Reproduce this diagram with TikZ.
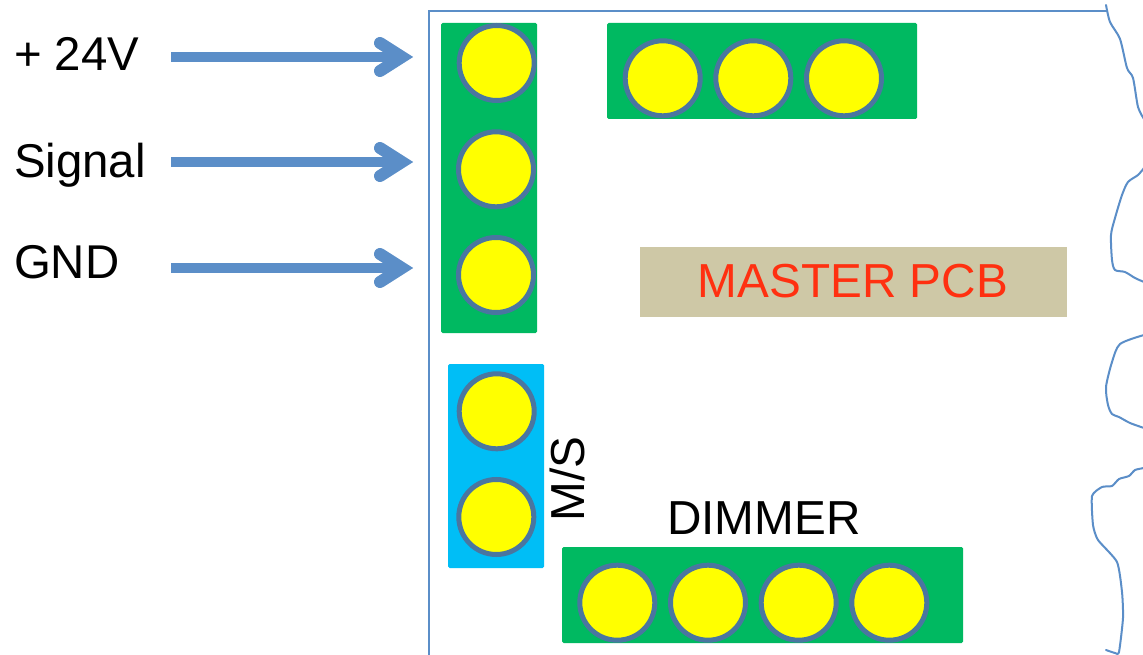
\documentclass[tikz,border=0pt]{standalone}
\usepackage{fontspec}
\setmainfont{Liberation Sans}
\definecolor{pcbgreen}{HTML}{00B961}
\definecolor{msblue}{HTML}{00BEF6}
\definecolor{padring}{HTML}{4A76A0}
\definecolor{padfill}{HTML}{FFFF00}
\definecolor{linkblue}{HTML}{5B8EC8}
\definecolor{tanbox}{HTML}{CEC8A6}
\definecolor{pcbred}{HTML}{FF3010}
\tikzset{
  greenbox/.style={fill=pcbgreen,rounded corners=1.5pt},
  bluebox/.style={fill=msblue,rounded corners=1.5pt},
  pad/.style={circle,draw=padring,fill=padfill,line width=5pt,minimum size=75pt,inner sep=0pt,outer sep=0pt},
  lbl/.style={inner sep=0pt,outer sep=0pt,anchor=base west,font=\fontsize{47.4}{50}\selectfont},
  clbl/.style={inner sep=0pt,outer sep=0pt,anchor=base,font=\fontsize{47.7}{50}\selectfont},
  sigshaft/.style={draw=linkblue,line width=9.5pt},
  sighead/.style={draw=linkblue,line width=12pt,line cap=round,miter limit=10},
  outline/.style={draw=linkblue,line width=2pt,line join=round,line cap=round}
}
\begin{document}
\begin{tikzpicture}[x=1pt,y=-1pt]
\useasboundingbox (0,0) rectangle (1143,655);
\fill[white] (0,0) rectangle (1143,655);
% board outline
\draw[outline,line join=miter] (429,660) -- (429,11) -- (1107,11);
\draw[outline] plot[smooth,tension=0.45] coordinates {(1106,5) (1110,22) (1120,39) (1127,68) (1133,78) (1138,107) (1144,119)};
\draw[outline] plot[smooth,tension=0.45] coordinates {(1144,168) (1138,175) (1128,182) (1122,195) (1115,218) (1111,235) (1112,260) (1115,270) (1125,272) (1135,278) (1144,282)};
\draw[outline] plot[smooth,tension=0.45] coordinates {(1144,335) (1120,344) (1112,362) (1106,387) (1108,405) (1112,414) (1119,417) (1130,423) (1144,428)};
\draw[outline] plot[smooth,tension=0.35] coordinates {(1144,468) (1135,470) (1129,476) (1119,479) (1112,486) (1102,487) (1092,496) (1093,525) (1098,540) (1117,562) (1122,592) (1123,618) (1119,652) (1115,653) (1106,650)};
% boards
\fill[greenbox] (441,23) rectangle (537,333);
\fill[greenbox] (607,23) rectangle (917,119);
\fill[bluebox] (448,364) rectangle (544,568);
\fill[greenbox] (562,547) rectangle (963,643);
\fill[tanbox] (640,247) rectangle (1067,317);
% pads
\node[pad] (p1) at (496.7,63) {};
\node[pad] (p2) at (496,169.3) {};
\node[pad] (p3) at (496,275) {};
\node[pad] (t1) at (662.7,78.3) {};
\node[pad] (t2) at (753.3,78.3) {};
\node[pad] (t3) at (844,78.3) {};
\node[pad] (m1) at (496.7,411.3) {};
\node[pad] (m2) at (496.3,517) {};
\node[pad] (d1) at (617.3,602.7) {};
\node[pad] (d2) at (708,602.7) {};
\node[pad] (d3) at (798.7,602.7) {};
\node[pad] (d4) at (889.3,602.7) {};
% labels
\node[lbl] (l24) at (14,71) {+ 24V};
\node[lbl] (lsig) at (14,178) {Signal};
\node[lbl] (lgnd) at (14,278) {GND};
\node[clbl,text=pcbred] (master) at (853,297) {MASTER PCB};
\node[clbl] (dim) at (764,534) {DIMMER};
\node[clbl,rotate=90] (ms) at (584,479) {M/S};
% arrows
\foreach \n/\yy in {a/57,b/162,c/268}{
  \coordinate (\n s) at (171,\yy);
  \coordinate (\n e) at (402,\yy);
  \coordinate (\n u) at (380,\yy-14);
  \coordinate (\n d) at (380,\yy+14);
  \draw[sigshaft] (\n s) -- (\n e);
  \draw[sighead] (\n u) -- (\n e) -- (\n d);
}
\end{tikzpicture}
\end{document}
